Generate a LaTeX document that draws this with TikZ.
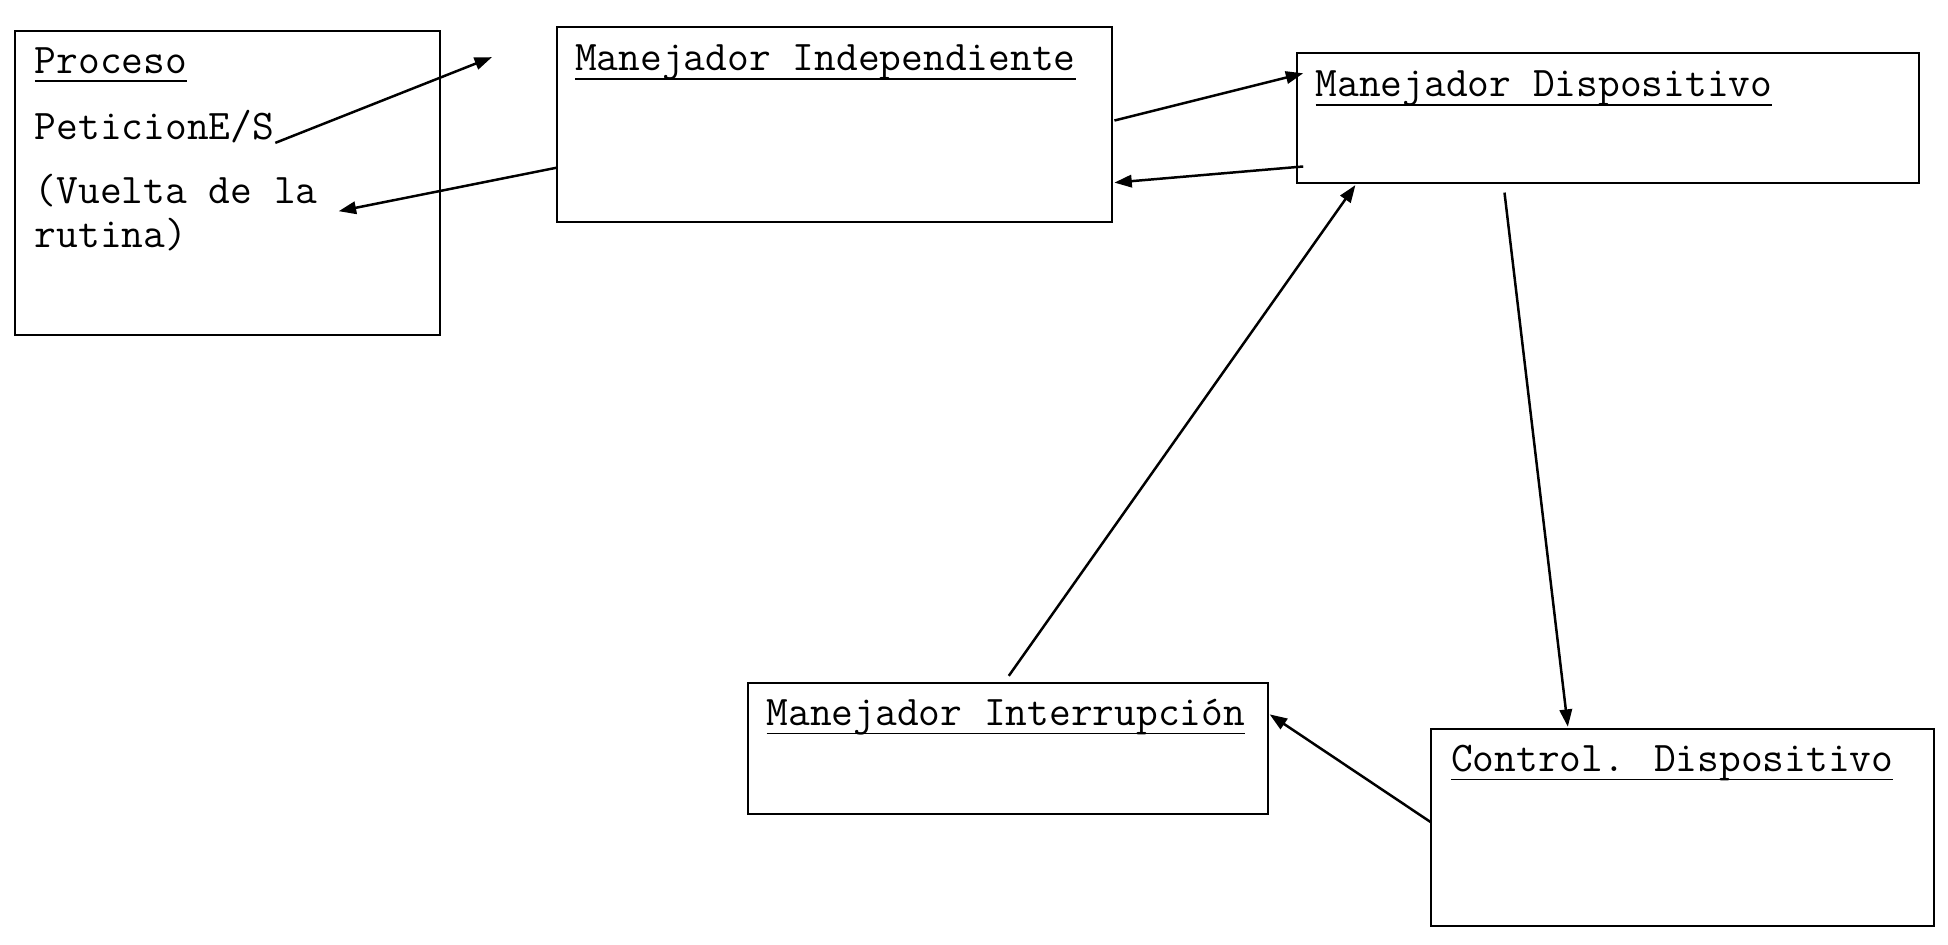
\documentclass[tikz,border=0pt]{standalone}
\usepackage{fontspec}
\usetikzlibrary{arrows.meta,fit,calc}
\begin{document}
\begin{tikzpicture}[x=0.5pt,y=-0.5pt,
  box/.style={draw, line width=0.8pt, inner sep=0pt, outer sep=0pt},
  lbl/.style={anchor=base west, inner sep=0pt, outer sep=0pt, font=\ttfamily\fontsize{17}{18}\selectfont},
  ul/.style={line width=0.7pt},
  conn/.style={line width=1pt, -{Triangle[length=7pt,width=5pt]}}]
\fill[white] (0,0) rectangle (1568,760);
\useasboundingbox (0,0) rectangle (1568,760);

% boxes
\node[box, fit={(12,25) (354,270)}] (proc) {};
\node[box, fit={(448,22) (895,179)}] (indep) {};
\node[box, fit={(1044,43) (1545,147)}] (disp) {};
\node[box, fit={(602,550) (1021,655)}] (inter) {};
\node[box, fit={(1152,587) (1557,745)}] (ctrl) {};

% texts
\node[lbl] (tproc) at (28,59) {Proceso};
\node[lbl] (tpet) at (28,112) {PeticionE/S};
\node[lbl] (tvuel) at (28,164) {(Vuelta de la};
\node[lbl] (trut) at (28,199) {rutina)};
\node[lbl] (tindep) at (463,57) {Manejador Independiente};
\node[lbl] (tdisp) at (1059,78) {Manejador Dispositivo};
\node[lbl] (tinter) at (617,584) {Manejador Interrupción};
\node[lbl] (tctrl) at (1168,621) {Control. Dispositivo};

% underlines
\foreach \n in {tproc,tindep,tdisp,tinter,tctrl}
  \draw[ul] ([yshift=-3.2pt]\n.base west) -- ([yshift=-3.2pt]\n.base east);

% free ends
\coordinate (c1) at (396,46);

% connectors
\draw[conn] ($(tpet.base east)+(1,3)$) -- (c1);
\draw[conn] ($(indep.north west)+(0,113)$) -- ($(tvuel.base east)+(17,6)$);
\draw[conn] ($(indep.north east)+(2,75)$) -- ($(disp.north west)+(5,16)$);
\draw[conn] ($(disp.north west)+(5,91)$) -- ($(indep.north east)+(2,125)$);
\draw[conn] ($(inter.north west)+(210,-6)$) -- ($(disp.south west)+(47,2)$);
\draw[conn] ($(disp.south west)+(167,8)$) -- ($(ctrl.north west)+(110,-2)$);
\draw[conn] ($(ctrl.north west)+(0,75)$) -- ($(inter.north east)+(1,25)$);
\end{tikzpicture}
\end{document}
